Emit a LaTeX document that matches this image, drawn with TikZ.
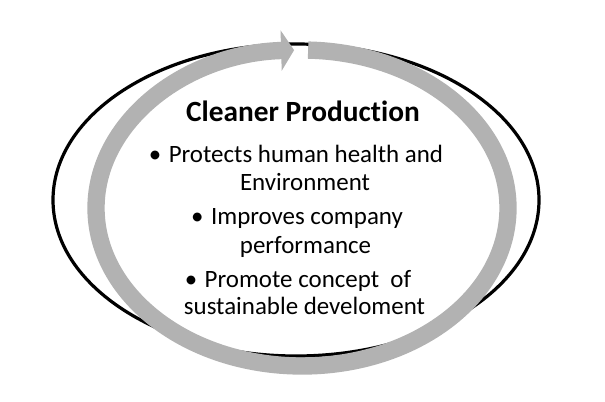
\documentclass[tikz,border=0pt]{standalone}
\usepackage{fontspec}
\setmainfont[Ligatures=NoCommon]{Carlito}
\usetikzlibrary{arrows.meta}
\definecolor{ringgray}{RGB}{178,178,178}
\begin{document}
\begin{tikzpicture}[line join=round,x=0.75pt,y=0.75pt]
	\tikzset{line style/.style={font=\fontsize{18.7}{22}\selectfont,inner sep=0pt,anchor=base}}
	\tikzset{title style/.style={font=\fontsize{22}{26}\selectfont\bfseries,inner sep=0pt,anchor=base}}
	\newcommand{\bul}{\textbullet\hspace{0.3em}}
	\useasboundingbox (0,0) rectangle (605,401);
	\draw[line width=2.4pt] (296,201) ellipse [x radius=243,y radius=156];
	\draw[ringgray,line width=13pt,-{Triangle[length=9.75pt,width=30pt]}] (302,193) ++(88.3:206 and 158) arc[start angle=88.3,end angle=-267.8,x radius=206,y radius=158];
	\node[title style] (title) at (303,280) {Cleaner Production};
	\node[line style] (protect) at (296,239) {\bul Protects human health and};
	\node[line style] (env) at (305,211) {Environment};
	\node[line style] (improve) at (297,177) {\bul Improves company};
	\node[line style] (perf) at (305.5,148) {performance};
	\node[line style] (promote) at (298,114) {\bul Promote concept\ \ of};
	\node[line style] (sustain) at (304.5,87) {sustainable develoment};
\end{tikzpicture}
\end{document}
